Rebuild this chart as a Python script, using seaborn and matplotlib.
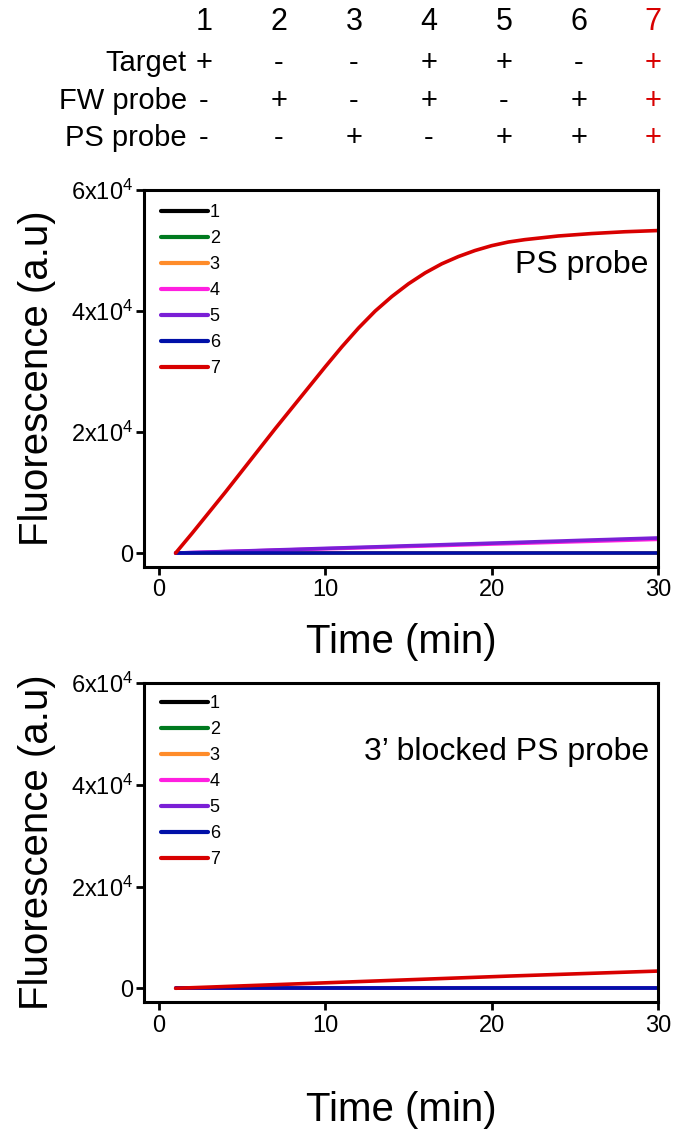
import numpy as np
import pandas as pd
import seaborn as sns
import matplotlib.pyplot as plt

# time axis (min)
time = [1, 2, 3, 4, 5, 6, 7, 8, 9, 10, 11, 12, 13, 14, 15,
        16, 17, 18, 19, 20, 21, 22, 23, 24, 25, 26, 27, 28, 29, 30]

# lanes and their header table
lanes = ['1', '2', '3', '4', '5', '6', '7']
target = ['+', '-', '-', '+', '+', '-', '+']
fw_probe = ['-', '+', '-', '+', '-', '+', '+']
ps_probe = ['-', '-', '+', '-', '+', '+', '+']

lane_colors = ['#000000', '#007a1f', '#ff8c2a', '#ff1fe0', '#7a1fd6', '#0010a8', '#d80000']

# PS probe panel
zero = [0] * 30
ps_lane4 = [0, 80, 160, 240, 310, 390, 470, 550, 630, 710, 780, 860, 940, 1020, 1100,
            1170, 1250, 1330, 1410, 1490, 1560, 1640, 1720, 1800, 1880, 1950, 2030, 2110, 2190, 2270]
ps_lane5 = [0, 90, 170, 260, 340, 430, 520, 600, 690, 780, 860, 950, 1030, 1120, 1210,
            1290, 1380, 1470, 1550, 1640, 1720, 1810, 1900, 1980, 2070, 2160, 2240, 2330, 2410, 2500]
ps_lane7 = [0, 3300, 6700, 10100, 13600, 17100, 20600, 24000, 27400, 30800, 34100, 37200, 40000, 42400, 44500,
            46300, 47800, 49000, 50000, 50800, 51400, 51800, 52100, 52400, 52600, 52800, 52950, 53100, 53200, 53300]

# 3' blocked PS probe panel
bl_lane7 = [0, 110, 230, 350, 470, 590, 710, 830, 950, 1070, 1190, 1310, 1430, 1550, 1670,
            1790, 1910, 2030, 2150, 2270, 2390, 2500, 2610, 2720, 2830, 2940, 3050, 3160, 3270, 3380]

ps_series = [zero, zero, zero, ps_lane4, ps_lane5, zero, ps_lane7]
bl_series = [zero, zero, zero, zero, zero, zero, bl_lane7]


def long_form(series):
    rows = []
    for lane, vals in zip(lanes, series):
        for t, v in zip(time, vals):
            rows.append({'Time': t, 'Fluorescence': v, 'Lane': lane})
    return pd.DataFrame(rows)


sns.set_theme(style='ticks')
plt.rcParams['font.family'] = ['Liberation Sans', 'DejaVu Sans']
plt.rcParams['mathtext.fontset'] = 'custom'
plt.rcParams['mathtext.rm'] = 'Liberation Sans'
plt.rcParams['mathtext.it'] = 'Liberation Sans'
plt.rcParams['text.color'] = 'black'
plt.rcParams['axes.labelcolor'] = 'black'
plt.rcParams['xtick.color'] = 'black'
plt.rcParams['ytick.color'] = 'black'

W, H = 673, 1148
fig = plt.figure(figsize=(W / 100, H / 100), dpi=100)

# header table
col_x = [204, 279, 354, 429, 504, 579, 653]
fs_head = 21
for i, lane in enumerate(lanes):
    c = '#d80000' if lane == '7' else 'black'
    fig.text(col_x[i] / W, 1 - 22 / H, lane, color=c, fontsize=fs_head + 1, ha='center', va='center')
    for y, row in zip([63, 101, 138], [target, fw_probe, ps_probe]):
        fig.text(col_x[i] / W, 1 - y / H, row[i], color=c, fontsize=fs_head,
                 ha='center', va='center')
for y, name in zip([63, 101, 138], ['Target', 'FW probe', 'PS probe']):
    fig.text(187 / W, 1 - y / H, name, fontsize=fs_head, ha='right', va='center')

panels = [
    (ps_series, 'PS probe', (190, 567), -2300, 642),
    (bl_series, '3\u2019 blocked PS probe', (683, 1002), -2700, 1110),
]

for series, note, (top, bot), ymin, xlab_y in panels:
    ax = fig.add_axes([144 / W, 1 - bot / H, (658 - 144) / W, (bot - top) / H])
    df = long_form(series)
    sns.lineplot(data=df, x='Time', y='Fluorescence', hue='Lane',
                 palette=dict(zip(lanes, lane_colors)), linewidth=2.6, ax=ax)
    ax.set_xlim(-0.9, 30)
    ax.set_ylim(ymin, 60000)
    ax.set_xticks([0, 10, 20, 30])
    ax.set_yticks([0, 20000, 40000, 60000])
    ax.set_yticklabels(['0', r'2x10$^\mathregular{4}$', r'4x10$^\mathregular{4}$', r'6x10$^\mathregular{4}$'])
    ax.tick_params(axis='x', labelsize=17, width=2, length=6, direction='out', pad=3)
    ax.tick_params(axis='y', labelsize=17, width=2, length=6, direction='out', pad=2)
    for s in ax.spines.values():
        s.set_linewidth(2.2)
        s.set_color('black')
        s.set_visible(True)

    h = bot - top
    ax.set_xlabel('Time (min)', fontsize=29)
    ax.set_ylabel('Fluorescence (a.u)', fontsize=29)
    ax.xaxis.set_label_coords(0.5, (bot - xlab_y) / h)
    ax.xaxis.label.set_va('center')
    ax.yaxis.set_label_coords((37 - 144) / 514, 0.5)
    ax.yaxis.label.set_va('center')

    handles, labels = ax.get_legend_handles_labels()
    for hd in handles:
        hd.set_linewidth(3)
    ax.legend(handles, labels, loc='upper left', bbox_to_anchor=(0.033, 0.962),
              frameon=False, fontsize=13, handlelength=2.6, handletextpad=0.1,
              labelspacing=0.5, borderpad=0, borderaxespad=0)

    ny = 0.801 if top < 500 else 0.784
    ax.text(0.982, ny, note, transform=ax.transAxes, fontsize=23, ha='right', va='center')

fig.savefig('out.png', dpi=100)
